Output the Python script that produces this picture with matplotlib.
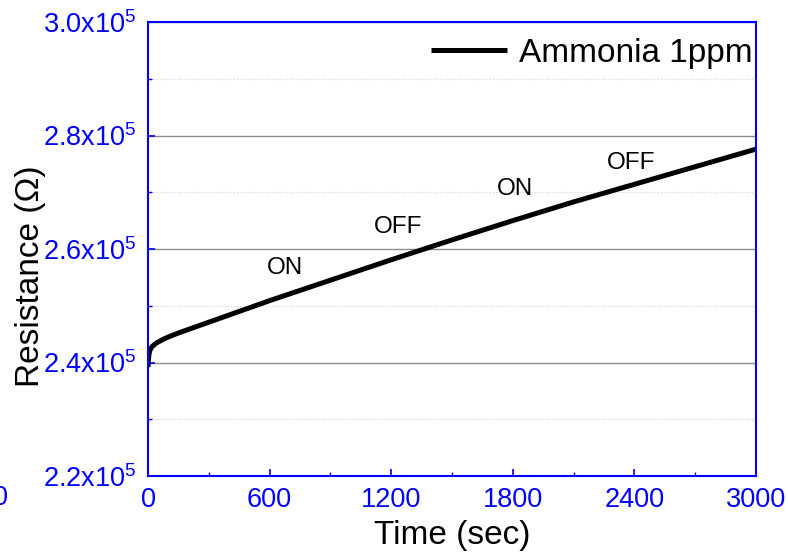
import matplotlib
matplotlib.use('Agg')
import matplotlib.pyplot as plt
from matplotlib import ticker

plt.rcParams['font.family'] = ['Liberation Sans', 'DejaVu Sans']
plt.rcParams['mathtext.fontset'] = 'custom'
plt.rcParams['mathtext.rm'] = 'Liberation Sans'

# data (resistance in units of 1e5 ohm)
time_sec = [0, 2, 5, 10, 20, 40, 70, 100, 150, 300, 600, 900, 1200,
            1500, 1800, 2100, 2400, 2700, 3000]
resistance = [2.392, 2.405, 2.415, 2.422, 2.428, 2.434, 2.440, 2.445,
              2.452, 2.471, 2.509, 2.545, 2.581, 2.616, 2.650, 2.683,
              2.714, 2.745, 2.776]
state_labels = ["ON", "OFF", "ON", "OFF"]
state_x = [676, 1234, 1811, 2383]
state_y = [2.566, 2.639, 2.706, 2.752]

BLUE = '#0000ff'


def ytick_fmt(v, pos):
    return r'$\mathregular{%.1fx10^{5}}$' % v


fig = plt.figure(figsize=(7.88, 5.56), dpi=100)
ax = fig.add_axes([148 / 788, 1 - 476 / 556, 608 / 788, 454 / 556])

ax.plot(time_sec, resistance, color='black', lw=3.6, label='Ammonia 1ppm',
        solid_capstyle='butt')

for lab, tx, ty in zip(state_labels, state_x, state_y):
    ax.text(tx, ty, lab, ha='center', va='center', fontsize=17.5)

ax.set_xlim(0, 3000)
ax.set_ylim(2.2, 3.0)
ax.xaxis.set_major_locator(ticker.MultipleLocator(600))
ax.xaxis.set_minor_locator(ticker.MultipleLocator(300))
ax.yaxis.set_major_locator(ticker.MultipleLocator(0.2))
ax.yaxis.set_minor_locator(ticker.MultipleLocator(0.1))
ax.yaxis.set_major_formatter(ticker.FuncFormatter(ytick_fmt))

ax.grid(True, axis='y', which='major', color='#8c8c8c', lw=1.0)
ax.grid(True, axis='y', which='minor', color='#d0d0d0', lw=0.8, ls=':')
ax.set_axisbelow(True)

for sp in ax.spines.values():
    sp.set_color(BLUE)
    sp.set_linewidth(1.5)
ax.tick_params(which='both', direction='in', colors=BLUE, labelsize=19.5)
ax.tick_params(which='major', length=5, width=1.2)
ax.tick_params(which='minor', length=3, width=1.0)
ax.tick_params(axis='y', pad=8)
ax.tick_params(axis='x', pad=8)

ax.set_xlabel('Time (sec)', fontsize=24)
ax.set_ylabel('Resistance (\u03a9)', fontsize=24)
ax.xaxis.set_label_coords(0.5, -0.097)
ax.yaxis.set_label_coords(-0.168, 0.44)

ax.legend(loc='upper right', frameon=False, fontsize=24, handlelength=2.3,
          handletextpad=0.35, borderaxespad=0.0, borderpad=0.1,
          bbox_to_anchor=(1.0, 0.972))

# stray clipped tick label at the far left edge
fig.text(0.0, 1 - 498 / 556, '0', ha='center', va='center', fontsize=19.5,
         color=BLUE)

fig.savefig('out.png', dpi=100)
